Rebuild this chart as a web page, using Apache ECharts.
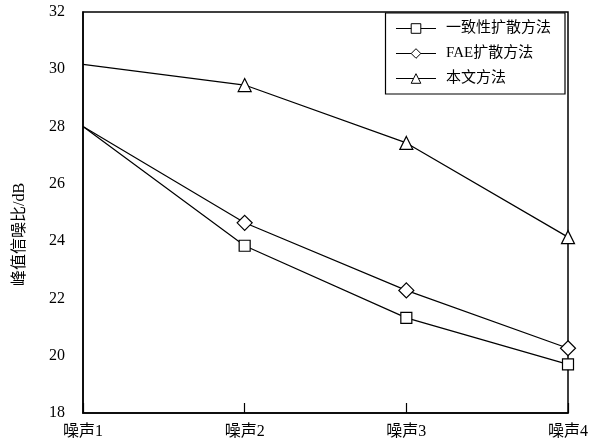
<!DOCTYPE html>
<html>
<head>
<meta charset="utf-8">
<script src="https://cdn.jsdelivr.net/npm/echarts@6/dist/echarts.min.js"></script>
<style>
html, body { margin: 0; padding: 0; background: #fff; }
#chart { width: 591px; height: 443px; }
</style>
</head>
<body>
<div id="chart"></div>
<script>
// 数据
const categories = ['噪声1', '噪声2', '噪声3', '噪声4'];
const seriesNames = ['一致性扩散方法', 'FAE扩散方法', '本文方法'];
const consistency = [28.0, 23.84, 21.32, 19.70];
const fae = [28.0, 24.64, 22.28, 20.26];
const ours = [30.17, 29.45, 27.43, 24.14];

const font = "'Liberation Serif', 'Noto Sans CJK SC', serif";

function lineSeries(name, data, symbol, size) {
    // 第一个点在坐标轴上，不画标记
    let points = data.map((v, i) => i === 0 ? { value: v, symbol: 'none' } : v);
    return {
        name: name,
        type: 'line',
        data: points,
        symbol: symbol,
        symbolSize: size,
        lineStyle: { color: '#000', width: 1.2 },
        itemStyle: { color: '#fff', borderColor: '#000', borderWidth: 1.2 },
        emphasis: { disabled: true }
    };
}

let chart = echarts.init(document.getElementById('chart'));
let option = {
    animation: false,
    textStyle: { fontFamily: font, color: '#000' },
    grid: {
        left: 83,
        right: 19,
        top: 12,
        bottom: 30,
        show: true,
        borderColor: '#000',
        borderWidth: 1.5
    },
    legend: {
        right: 26,
        top: 13,
        orient: 'vertical',
        itemGap: 10,
        itemWidth: 40,
        itemHeight: 12,
        padding: [8, 14, 8, 10],
        borderColor: '#000',
        borderWidth: 1.2,
        itemStyle: { borderWidth: 1 },
        lineStyle: { width: 1 },
        textStyle: { fontFamily: font, fontSize: 15, color: '#000', padding: [0, 0, 0, 5] },
        data: seriesNames
    },
    xAxis: {
        type: 'category',
        boundaryGap: false,
        data: categories,
        axisLine: { lineStyle: { color: '#000', width: 1.5 } },
        axisTick: { inside: true, length: 10, lineStyle: { color: '#000', width: 1.2 } },
        axisLabel: { color: '#000', fontSize: 16, fontFamily: font, margin: 11 }
    },
    yAxis: {
        type: 'value',
        min: 18,
        max: 32,
        interval: 2,
        name: '峰值信噪比/dB',
        nameLocation: 'middle',
        nameGap: 55,
        nameTextStyle: { fontSize: 16, fontFamily: font, color: '#000', padding: [0, 44, 0, 0] },
        splitLine: { show: false },
        axisLine: { show: true, lineStyle: { color: '#000', width: 1.5 } },
        axisTick: { inside: true, length: 9, lineStyle: { color: '#000', width: 1.2 } },
        axisLabel: { color: '#000', fontSize: 16, fontFamily: font, margin: 18 }
    },
    series: [
        lineSeries(seriesNames[0], consistency, 'rect', 11),
        lineSeries(seriesNames[1], fae, 'diamond', 15),
        lineSeries(seriesNames[2], ours, 'triangle', 13)
    ]
};
chart.setOption(option);
</script>
</body>
</html>
